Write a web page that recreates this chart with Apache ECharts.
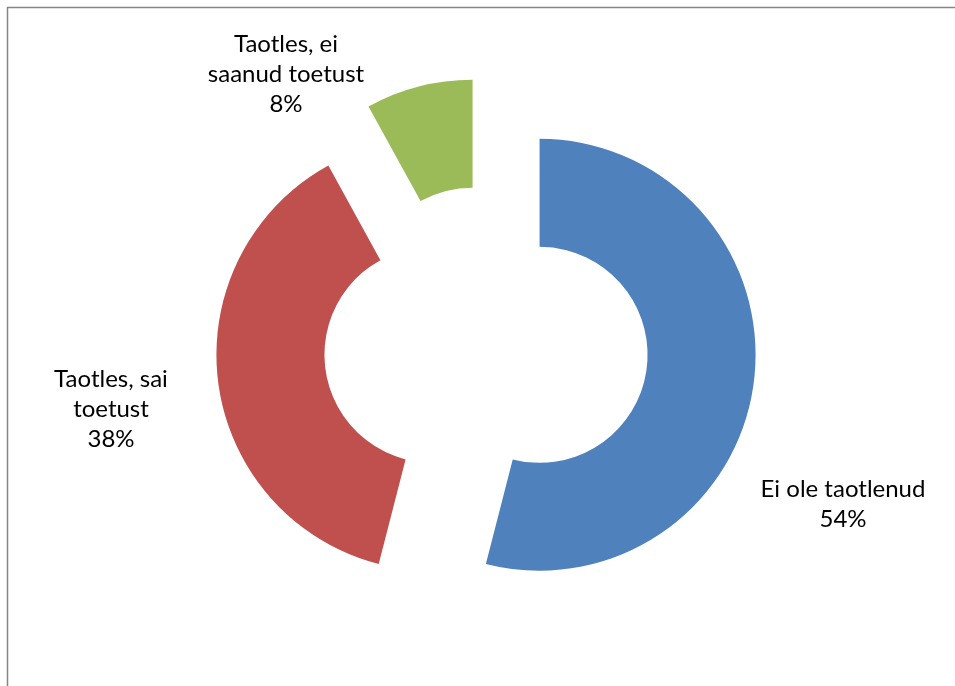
<!DOCTYPE html>
<html>
<head>
<meta charset="utf-8">
<script src="https://cdn.jsdelivr.net/npm/echarts@6/dist/echarts.min.js"></script>
<style>
html,body{margin:0;padding:0;background:#fff;}
#chart{width:955px;height:686px;}
</style>
</head>
<body>
<div id="chart"></div>
<script>
var categories = ['Ei ole taotlenud', 'Taotles, sai\ntoetust', 'Taotles, ei\nsaanud toetust'];
var values = [54, 38, 8];
var colors = ['#4F81BD', '#C0504D', '#9BBB59'];
var labelPos = [[843, 504], [111, 409], [286, 74]];

var chart = echarts.init(document.getElementById('chart'), null, {renderer: 'canvas'});
var sliceData = categories.map(function (c, i) {
  return {name: c, value: values[i], selected: true, itemStyle: {color: colors[i]}};
});
var labelData = categories.map(function (c, i) {
  return {name: c, value: values[i]};
});
chart.setOption({
  animation: false,
  backgroundColor: '#ffffff',
  graphic: [{
    type: 'rect',
    shape: {x: 7.5, y: 7.5, width: 1000, height: 1000},
    style: {fill: 'none', stroke: '#868686', lineWidth: 1.5},
    silent: true
  }],
  series: [{
    type: 'pie',
    center: [486, 348],
    radius: [108, 216],
    startAngle: 90,
    clockwise: true,
    selectedMode: 'multiple',
    selectedOffset: 54,
    data: sliceData,
    itemStyle: {borderWidth: 0},
    emphasis: {disabled: true},
    label: {show: false},
    labelLine: {show: false}
  }, {
    type: 'pie',
    center: [486, 348],
    radius: [108, 216],
    startAngle: 90,
    clockwise: true,
    silent: true,
    percentPrecision: 0,
    data: labelData,
    itemStyle: {color: 'rgba(0,0,0,0)', borderWidth: 0},
    emphasis: {disabled: true},
    labelLine: {show: false},
    label: {
      show: true,
      position: 'outside',
      formatter: '{b}\n{d}%',
      fontFamily: 'Lato, "Noto Sans", sans-serif',
      fontSize: 24,
      lineHeight: 30,
      color: '#000',
      align: 'center'
    },
    labelLayout: function (params) {
      var p = labelPos[params.dataIndex];
      return {x: p[0], y: p[1], align: 'center', verticalAlign: 'middle', hideOverlap: false};
    }
  }]
});
</script>
</body>
</html>
